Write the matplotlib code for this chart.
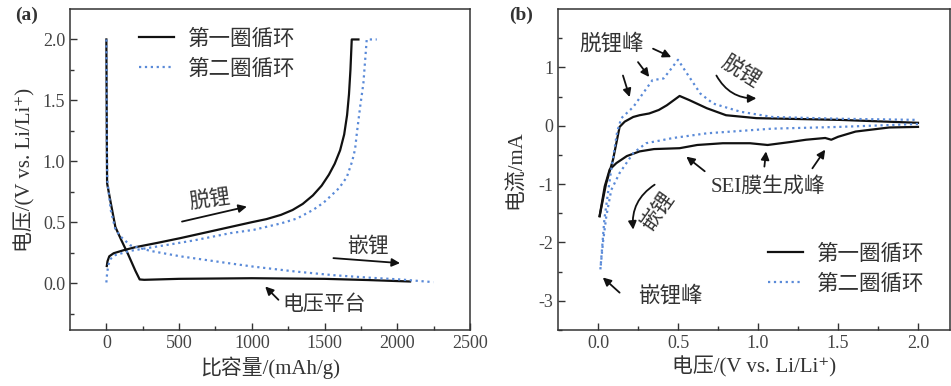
import matplotlib
matplotlib.use("Agg")
import matplotlib.pyplot as plt
from matplotlib.lines import Line2D

plt.rcParams['font.family'] = ['Liberation Serif', 'Noto Sans CJK SC', 'DejaVu Serif']
plt.rcParams['axes.unicode_minus'] = False

# ---------------- data: panel (a) ----------------
cap1_dis = [0, 3, 5, 30, 62, 100, 150, 200, 229, 260, 500, 1000, 1500, 1800, 2088]
v1_dis = [2.0, 1.2, 0.82, 0.66, 0.46, 0.36, 0.235, 0.10, 0.03, 0.027, 0.035, 0.04, 0.035, 0.025, 0.013]
cap1_chg = [3, 8, 20, 50, 119, 200, 350, 508, 700, 850, 1000, 1100, 1200, 1280, 1350, 1420, 1480,
            1530, 1570, 1607, 1635, 1655, 1668, 1678, 1687, 1733]
v1_chg = [0.14, 0.18, 0.22, 0.245, 0.27, 0.295, 0.33, 0.369, 0.42, 0.46, 0.50, 0.525, 0.56, 0.60,
          0.65, 0.72, 0.80, 0.89, 0.98, 1.09, 1.22, 1.38, 1.55, 1.75, 2.0, 2.0]
cap2_dis = [0, 3, 6, 30, 62, 100, 165, 300, 508, 800, 1012, 1300, 1561, 1800, 2019, 2248]
v2_dis = [2.0, 1.2, 0.85, 0.6, 0.44, 0.38, 0.31, 0.265, 0.22, 0.17, 0.135, 0.095, 0.065, 0.045, 0.03, 0.008]
cap2_chg = [0, 5, 14, 30, 62, 165, 400, 600, 852, 1012, 1200, 1310, 1420, 1493, 1538, 1600, 1653,
            1690, 1710, 1722, 1745, 1767, 1790, 1859]
v2_chg = [0.005, 0.08, 0.15, 0.2, 0.23, 0.265, 0.31, 0.35, 0.41, 0.437, 0.49, 0.53, 0.6, 0.66, 0.71,
          0.78, 0.87, 1.0, 1.1, 1.23, 1.45, 1.64, 2.0, 2.0]

# ---------------- data: panel (b) ----------------
e1_cath = [2.0, 1.82, 1.61, 1.50, 1.458, 1.42, 1.30, 1.20, 1.06, 0.95, 0.78, 0.62, 0.51, 0.35, 0.26,
           0.18, 0.115, 0.073, 0.042, 0.01]
i1_cath = [-0.02, -0.03, -0.10, -0.19, -0.24, -0.21, -0.24, -0.28, -0.33, -0.30, -0.30, -0.33, -0.385,
           -0.40, -0.44, -0.52, -0.64, -0.75, -1.04, -1.55]
e1_anod = [0.01, 0.05, 0.094, 0.135, 0.167, 0.22, 0.26, 0.32, 0.38, 0.43, 0.51, 0.57, 0.68, 0.80, 0.99,
           1.51, 2.0]
i1_anod = [-1.55, -1.0, -0.58, -0.02, 0.07, 0.15, 0.18, 0.21, 0.27, 0.35, 0.51, 0.44, 0.30, 0.18, 0.13,
           0.10, 0.05]
e2_anod = [0.015, 0.04, 0.08, 0.12, 0.146, 0.22, 0.28, 0.34, 0.41, 0.45, 0.50, 0.55, 0.64, 0.72, 0.89,
           1.09, 1.5, 2.0]
i2_anod = [-2.46, -1.6, -0.8, -0.1, 0.13, 0.32, 0.55, 0.78, 0.81, 0.95, 1.13, 0.92, 0.55, 0.38, 0.24,
           0.15, 0.12, 0.10]
e2_cath = [2.0, 1.51, 1.09, 0.68, 0.47, 0.30, 0.22, 0.135, 0.083, 0.052, 0.031, 0.015]
i2_cath = [0.03, -0.02, -0.05, -0.13, -0.21, -0.30, -0.47, -0.81, -1.10, -1.55, -2.0, -2.46]

labels = ['第一圈循环', '第二圈循环']
xticks_a = [0, 500, 1000, 1500, 2000, 2500]
yticks_a = [0.0, 0.5, 1.0, 1.5, 2.0]
xticks_b = [0.0, 0.5, 1.0, 1.5, 2.0]
yticks_b = [-3, -2, -1, 0, 1]

BLACK = '#111111'
BLUE = '#5a8ad8'
TXT = '#333333'
W, H = 951, 386

fig = plt.figure(figsize=(W / 100, H / 100), dpi=100)
axa = fig.add_axes([70 / W, (H - 330) / H, 400 / W, 321 / H])
axb = fig.add_axes([558 / W, (H - 330) / H, 392 / W, 321 / H])

for ax in (axa, axb):
    for s in ax.spines.values():
        s.set_color('#333333')
        s.set_linewidth(1.1)
    ax.tick_params(which='both', direction='in', top=False, right=False, colors='#333333',
                   labelcolor='#444444', labelsize=13)
    ax.tick_params(which='major', length=5, width=1)
    ax.tick_params(which='minor', length=3, width=1)

leg_kw = dict(loc='upper left', frameon=False, fontsize=15.5, handlelength=1.63, handletextpad=0.65,
              labelspacing=0.45, borderpad=0, borderaxespad=0, labelcolor=TXT)

# panel a
axa.plot(cap1_dis, v1_dis, color=BLACK, lw=1.6)
axa.plot(cap1_chg, v1_chg, color=BLACK, lw=1.6)
axa.plot(cap2_dis, v2_dis, color=BLUE, lw=1.6, ls=':')
axa.plot(cap2_chg, v2_chg, color=BLUE, lw=1.6, ls=':')
axa.set_xlim(-250, 2500)
axa.set_ylim(-0.385, 2.25)
axa.set_xticks(xticks_a)
axa.set_xticklabels([str(t) for t in xticks_a])
axa.set_xticks([250, 750, 1250, 1750, 2250], minor=True)
axa.set_yticks(yticks_a)
axa.set_yticklabels(['%.1f' % t for t in yticks_a])
axa.set_yticks([-0.25, 0.25, 0.75, 1.25, 1.75], minor=True)
axa.set_xlabel('比容量/(mAh/g)', fontsize=15, color=TXT, labelpad=3)
axa.set_ylabel('电压/(V vs. Li/Li⁺)', fontsize=15, color=TXT, labelpad=5)
handles = [Line2D([], [], color=BLACK, lw=1.6), Line2D([], [], color=BLUE, lw=1.6, ls=':')]
axa.legend(handles, labels, bbox_to_anchor=(0.1725, 0.937), **leg_kw)

arr = dict(arrowstyle='-|>', color=BLACK, lw=1.3, mutation_scale=12, shrinkA=0, shrinkB=0)
axa.annotate('', xy=(966, 0.628), xytext=(520, 0.505), arrowprops=arr)
axa.text(714, 0.675, '脱锂', fontsize=15, color=TXT, ha='center', va='center', rotation=8)
axa.annotate('', xy=(2019, 0.164), xytext=(1561, 0.205), arrowprops=arr)
axa.text(1796, 0.30, '嵌锂', fontsize=15, color=TXT, ha='center', va='center')
axa.annotate('', xy=(1092, -0.028), xytext=(1183, -0.137), arrowprops=arr)
axa.text(1497, -0.178, '电压平台', fontsize=15, color=TXT, ha='center', va='center')

# panel b
axb.plot(e1_cath, i1_cath, color=BLACK, lw=1.6)
axb.plot(e1_anod, i1_anod, color=BLACK, lw=1.6)
axb.plot(e2_cath, i2_cath, color=BLUE, lw=1.6, ls=':')
axb.plot(e2_anod, i2_anod, color=BLUE, lw=1.6, ls=':')
axb.set_xlim(-0.25, 2.2)
axb.set_ylim(-3.5, 2.0)
axb.set_xticks(xticks_b)
axb.set_xticklabels(['%.1f' % t for t in xticks_b])
axb.set_xticks([0.25, 0.75, 1.25, 1.75], minor=True)
axb.set_yticks(yticks_b)
axb.set_yticklabels([str(t) for t in yticks_b])
axb.set_yticks([-3.5, -2.5, -1.5, -0.5, 0.5, 1.5], minor=True)
axb.set_xlabel('电压/(V vs. Li/Li⁺)', fontsize=15, color=TXT, labelpad=3)
axb.set_ylabel('电流/mA', fontsize=15, color=TXT, labelpad=9)
axb.legend(handles, labels, bbox_to_anchor=(0.536, 0.266), **leg_kw)

axb.text(0.0875, 1.40, '脱锂峰', fontsize=15.5, color=TXT, ha='center', va='center')
axb.annotate('', xy=(0.198, 0.49), xytext=(0.156, 0.86), arrowprops=arr)
axb.annotate('', xy=(0.32, 0.835), xytext=(0.25, 1.09), arrowprops=arr)
axb.annotate('', xy=(0.458, 1.175), xytext=(0.344, 1.32), arrowprops=arr)
axb.text(0.89, 0.90, '脱锂', fontsize=15, color=TXT, ha='center', va='center', rotation=-32)
axb.annotate('', xy=(0.99, 0.47), xytext=(0.74, 0.86),
             arrowprops=dict(arr, connectionstyle='arc3,rad=0.3'))
axb.text(0.375, -1.47, '嵌锂', fontsize=15, color=TXT, ha='center', va='center', rotation=55)
axb.annotate('', xy=(0.22, -1.78), xytext=(0.354, -1.01),
             arrowprops=dict(arr, connectionstyle='arc3,rad=0.3'))
axb.text(1.06, -1.05, 'SEI膜生成峰', fontsize=15, color=TXT, ha='center', va='center')
axb.annotate('', xy=(0.552, -0.53), xytext=(0.667, -0.78), arrowprops=arr)
axb.annotate('', xy=(1.05, -0.44), xytext=(1.04, -0.70), arrowprops=arr)
axb.annotate('', xy=(1.42, -0.41), xytext=(1.34, -0.73), arrowprops=arr)
axb.text(0.45, -2.92, '嵌锂峰', fontsize=15.5, color=TXT, ha='center', va='center')
axb.annotate('', xy=(0.03, -2.60), xytext=(0.135, -2.86), arrowprops=arr)

fig.text(27 / W, 1 - 15 / H, '(a)', fontsize=14, color=TXT, ha='center', va='center', fontweight='bold')
fig.text(521 / W, 1 - 15 / H, '(b)', fontsize=14, color=TXT, ha='center', va='center', fontweight='bold')

fig.savefig('out.png', dpi=100)
